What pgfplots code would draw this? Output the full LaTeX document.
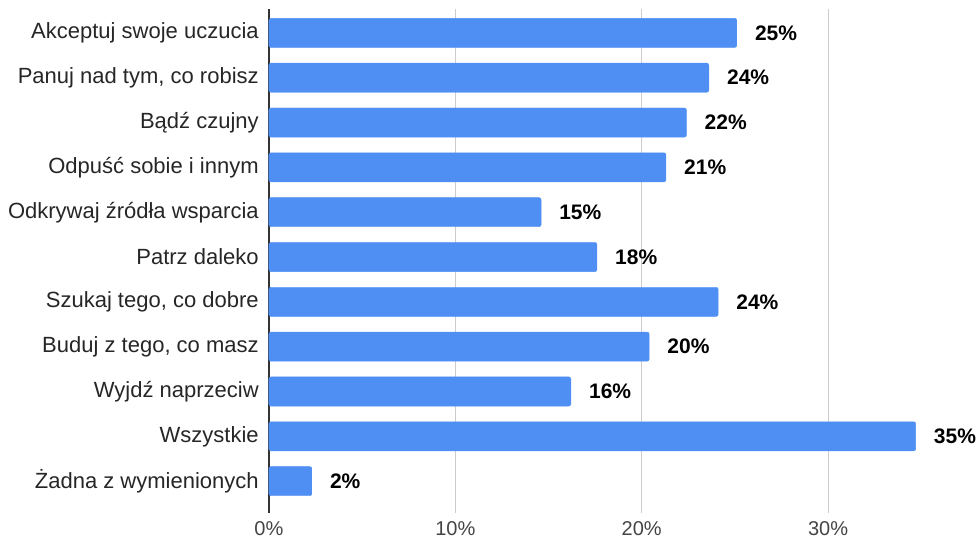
\documentclass[border=0pt]{standalone}
\usepackage{pgfplots}
\pgfplotsset{compat=1.18}
\usepackage{pgfplotstable}
\usepackage{fontspec}
\setmainfont{Liberation Sans}
\definecolor{barblue}{RGB}{79,143,244}
\definecolor{gridgray}{RGB}{204,204,204}
\definecolor{ticktext}{RGB}{68,68,68}
\pgfplotstableread[col sep=comma]{
y,x,lab
0,25.1,25\%
1,23.6,24\%
2,22.4,22\%
3,21.3,21\%
4,14.6,15\%
5,17.6,18\%
6,24.1,24\%
7,20.4,20\%
8,16.2,16\%
9,34.7,35\%
10,2.3,2\%
}\datatable
\begin{document}
\begin{tikzpicture}
\begin{axis}[
  scale only axis,
  width=687bp, height=502bp,
  xmin=0, xmax=37,
  ymin=-0.532, ymax=10.71,
  y dir=reverse,
  axis lines*=left,
  x axis line style={draw=none},
  y axis line style={draw=black!80, line width=1.5pt},
  xtick={0,10,20,30},
  xticklabels={0\%,10\%,20\%,30\%},
  ytick={0,...,10},
  yticklabels={Akceptuj swoje uczucia,{Panuj nad tym, co robisz},Bądź czujny,Odpuść sobie i innym,Odkrywaj źródła wsparcia,Patrz daleko,{Szukaj tego, co dobre},{Buduj z tego, co masz},Wyjdź naprzeciw,Wszystkie,Żadna z wymienionych},
  major tick length=0pt,
  xmajorgrids,
  grid style={gridgray, line width=1pt},
  tick label style={inner sep=0pt},
  yticklabel style={font=\fontsize{22}{24}\selectfont, xshift=-10bp, text=black!85},
  xticklabel style={font=\fontsize{20}{24}\selectfont, yshift=-8bp, text=ticktext},
  /pgf/number format/assume math mode=true,
  xbar,
  bar width=29bp,
  nodes near coords,
  point meta=explicit symbolic,
  nodes near coords style={font=\fontsize{21}{24}\selectfont\bfseries, anchor=west, inner sep=0pt, xshift=18bp, text=black},
  clip=false,
]
\addplot[fill=barblue, draw=barblue, rounded corners=2bp] table[x=x, y=y, meta=lab] {\datatable};
\end{axis}
\path ([yshift=9bp]current axis.north west);
\path ([xshift=-8bp]current bounding box.west);
\path ([xshift=2bp]current bounding box.east);
\path ([yshift=-5bp]current bounding box.south);
\end{tikzpicture}
\end{document}
